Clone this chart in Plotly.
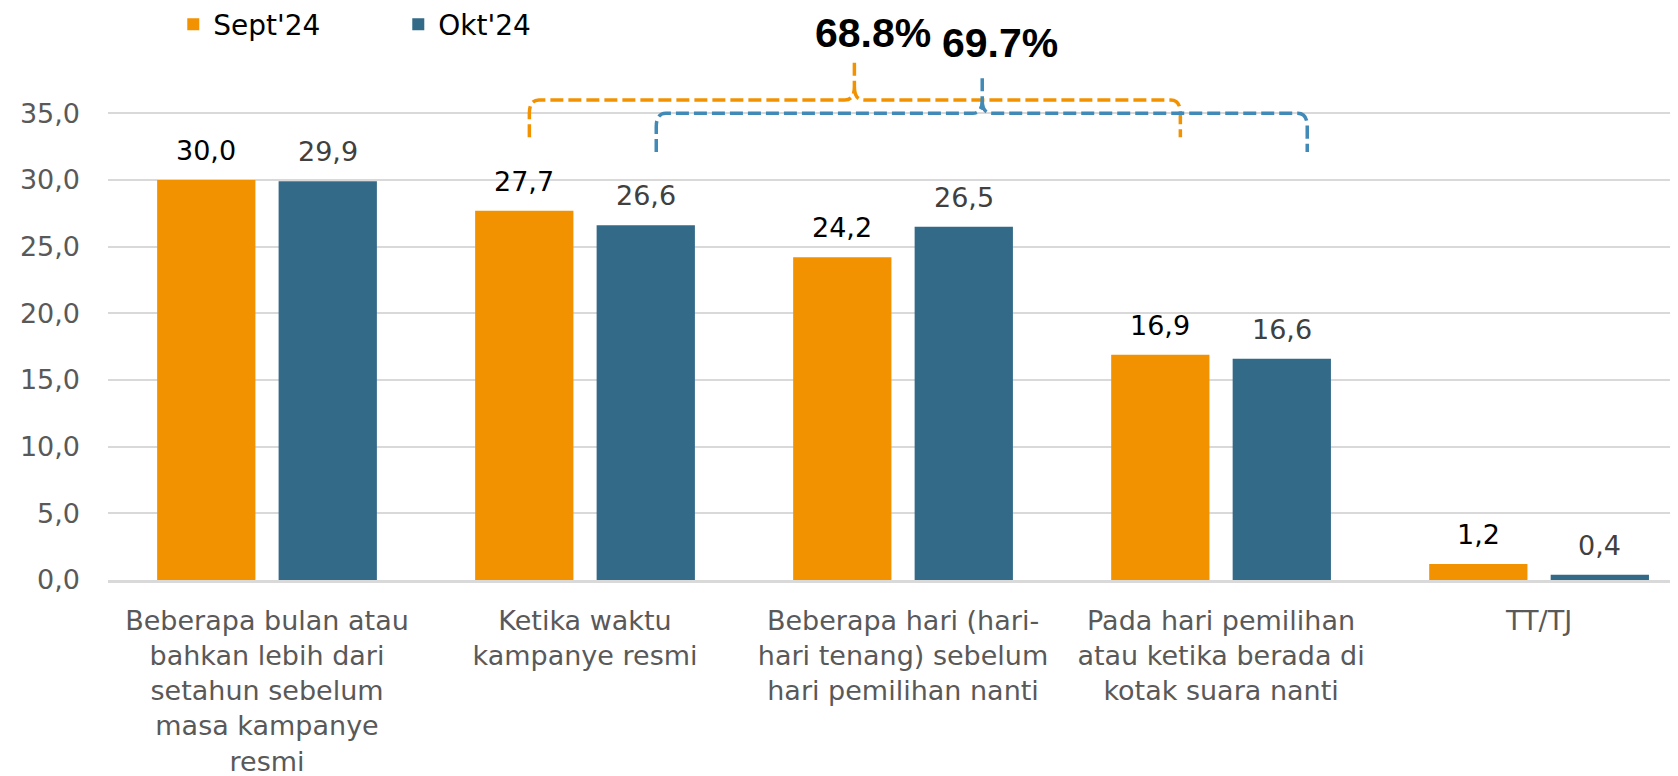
import plotly.graph_objects as go

# ---- data ----
categories = [
    "Beberapa bulan atau<br>bahkan lebih dari<br>setahun sebelum<br>masa kampanye<br>resmi",
    "Ketika waktu<br>kampanye resmi",
    "Beberapa hari (hari-<br>hari tenang) sebelum<br>hari pemilihan nanti",
    "Pada hari pemilihan<br>atau ketika berada di<br>kotak suara nanti",
    "TT/TJ",
]
sept_values = [30.0, 27.7, 24.2, 16.9, 1.2]
okt_values = [29.9, 26.6, 26.5, 16.6, 0.4]
series_names = ["Sept'24", "Okt'24"]
y_tick_values = [0, 5, 10, 15, 20, 25, 30, 35]
y_tick_labels = ["0,0", "5,0", "10,0", "15,0", "20,0", "25,0", "30,0", "35,0"]
total_labels = ["68.8%", "69.7%"]

# ---- styles ----
ORANGE = "#F39200"
BLUE = "#336A88"
BRACKET_BLUE = "#4189B6"
FONT = "DejaVu Sans"
FS = 27

x_idx = list(range(len(categories)))

fig = go.Figure()
fig.add_trace(go.Bar(x=x_idx, y=sept_values, name=series_names[0],
                     marker=dict(color=ORANGE, line=dict(width=0))))
fig.add_trace(go.Bar(x=x_idx, y=okt_values, name=series_names[1],
                     marker=dict(color=BLUE, line=dict(width=0))))

BARGAP = 0.236
GROUPGAP = 0.191
slot = (1 - BARGAP) / 2
annotations = []
for vals, off, col in ((sept_values, -slot / 2, "#000000"), (okt_values, slot / 2, "#404040")):
    for i, v in enumerate(vals):
        annotations.append(dict(
            x=i + off, y=v, xref="x", yref="y",
            text=f"{v:.1f}".replace(".", ","), showarrow=False,
            yanchor="bottom", yshift=12,
            font=dict(family=FONT, size=FS, color=col)))


def bracket(xl, xm, xr, yb, yh, yt, ex=0.03, ey=1.0):
    return (f"M {xl},{yb} L {xl},{yh - ey} Q {xl},{yh} {xl + ex},{yh} "
            f"L {xm - ex},{yh} Q {xm},{yh} {xm},{yh + ey} L {xm},{yt} "
            f"M {xm},{yh + ey} Q {xm},{yh} {xm + ex},{yh} "
            f"L {xr - ex},{yh} Q {xr},{yh} {xr},{yh - ey} L {xr},{yb}")


shapes = [
    dict(type="path", xref="x", yref="y",
         path=bracket(0.825, 1.847, 2.872, 33.2, 36.0, 38.9),
         line=dict(color=ORANGE, width=3.5, dash="13px,5px")),
    dict(type="path", xref="x", yref="y",
         path=bracket(1.224, 2.249, 3.271, 32.1, 35.0, 37.7),
         line=dict(color=BRACKET_BLUE, width=3.5, dash="13px,5px")),
]

annotations.append(dict(x=1.906, y=41.05, xref="x", yref="y", text=f"<b>{total_labels[0]}</b>",
                        showarrow=False, font=dict(family="Liberation Sans", size=41, color="#000000")))
annotations.append(dict(x=2.306, y=40.3, xref="x", yref="y", text=f"<b>{total_labels[1]}</b>",
                        showarrow=False, font=dict(family="Liberation Sans", size=41, color="#000000")))

fig.update_layout(
    width=1678, height=776,
    margin=dict(l=100, r=0, t=0, b=204, autoexpand=False),
    paper_bgcolor="white", plot_bgcolor="white",
    barmode="group", bargap=BARGAP, bargroupgap=GROUPGAP,
    font=dict(family=FONT, size=FS, color="#595959"),
    showlegend=True,
    legend=dict(orientation="h", xref="container", x=0.0985, xanchor="left",
                yref="container", y=1 - 16.5 / 776, yanchor="middle",
                font=dict(family=FONT, size=28, color="#000000"),
                bgcolor="rgba(0,0,0,0)", entrywidth=180, entrywidthmode="pixels"),
    xaxis=dict(range=[-0.5, 4.462], tickvals=x_idx, ticktext=categories,
               showgrid=False, showline=True, linecolor="#D9D9D9", linewidth=2.5,
               ticks="", ticklabelstandoff=15, zeroline=False, automargin=False,
               tickfont=dict(family=FONT, size=FS, color="#595959")),
    yaxis=dict(range=[0, 42.9], tickvals=y_tick_values, ticktext=y_tick_labels,
               showgrid=True, gridcolor="#D9D9D9", gridwidth=1.5, zeroline=False,
               showline=False, ticks="", ticklabelstandoff=27, automargin=False,
               tickfont=dict(family=FONT, size=FS, color="#595959")),
    shapes=shapes, annotations=annotations,
)

fig.write_html("out.html")
